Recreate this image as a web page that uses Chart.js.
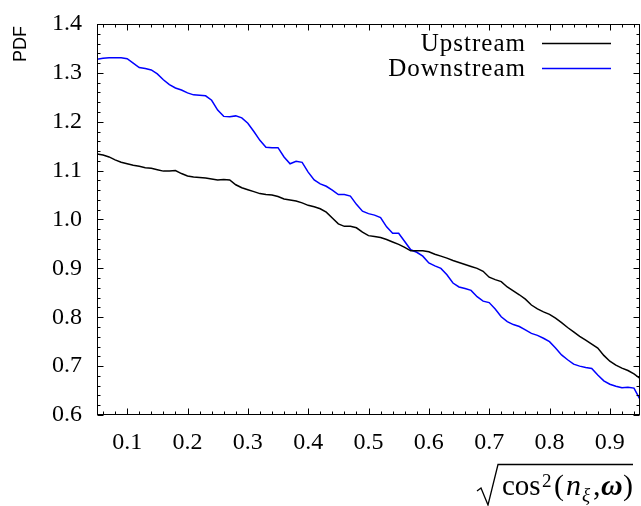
<!DOCTYPE html>
<html>
<head>
<meta charset="utf-8">
<script src="https://cdn.jsdelivr.net/npm/chart.js@4.4.1/dist/chart.umd.min.js"></script>
<style>
  html, body { margin: 0; padding: 0; background: #fff; }
</style>
</head>
<body>
<canvas id="chart" width="641" height="506"></canvas>
<script>
// values
const xValues = [
  0.05, 0.06, 0.07, 0.08, 0.09, 0.10, 0.11, 0.12, 0.13, 0.14,
  0.15, 0.16, 0.17, 0.18, 0.19, 0.20, 0.21, 0.22, 0.23, 0.24,
  0.25, 0.26, 0.27, 0.28, 0.29, 0.30, 0.31, 0.32, 0.33, 0.34,
  0.35, 0.36, 0.37, 0.38, 0.39, 0.40, 0.41, 0.42, 0.43, 0.44,
  0.45, 0.46, 0.47, 0.48, 0.49, 0.50, 0.51, 0.52, 0.53, 0.54,
  0.55, 0.56, 0.57, 0.58, 0.59, 0.60, 0.61, 0.62, 0.63, 0.64,
  0.65, 0.66, 0.67, 0.68, 0.69, 0.70, 0.71, 0.72, 0.73, 0.74,
  0.75, 0.76, 0.77, 0.78, 0.79, 0.80, 0.81, 0.82, 0.83, 0.84,
  0.85, 0.86, 0.87, 0.88, 0.89, 0.90, 0.91, 0.92, 0.93, 0.94, 0.95
];
const upstream = [
  1.134, 1.132, 1.128, 1.122, 1.117, 1.114, 1.111, 1.109, 1.106, 1.105,
  1.102, 1.099, 1.099, 1.100, 1.094, 1.089, 1.087, 1.086, 1.085, 1.083,
  1.081, 1.082, 1.081, 1.071, 1.065, 1.061, 1.057, 1.053, 1.051, 1.050,
  1.047, 1.042, 1.040, 1.038, 1.034, 1.029, 1.026, 1.022, 1.015, 1.003,
  0.991, 0.986, 0.986, 0.983, 0.974, 0.967, 0.965, 0.963, 0.959, 0.954,
  0.949, 0.943, 0.936, 0.936, 0.936, 0.934, 0.929, 0.925, 0.921, 0.916,
  0.912, 0.908, 0.904, 0.900, 0.894, 0.882, 0.877, 0.873, 0.862, 0.854,
  0.846, 0.837, 0.825, 0.817, 0.811, 0.806, 0.798, 0.789, 0.779, 0.770,
  0.761, 0.753, 0.745, 0.737, 0.722, 0.710, 0.702, 0.696, 0.691, 0.684, 0.675
];
const downstream = [
  1.328, 1.330, 1.331, 1.331, 1.331, 1.329, 1.320, 1.311, 1.309, 1.306,
  1.298, 1.286, 1.276, 1.269, 1.265, 1.259, 1.255, 1.254, 1.253, 1.244,
  1.224, 1.211, 1.210, 1.212, 1.208, 1.197, 1.180, 1.162, 1.148, 1.147,
  1.147, 1.128, 1.114, 1.119, 1.117, 1.097, 1.081, 1.073, 1.068, 1.060,
  1.051, 1.051, 1.048, 1.031, 1.017, 1.012, 1.009, 1.004, 0.985, 0.972,
  0.972, 0.955, 0.938, 0.933, 0.925, 0.911, 0.905, 0.900, 0.887, 0.870,
  0.862, 0.859, 0.855, 0.842, 0.833, 0.830, 0.817, 0.801, 0.791, 0.785,
  0.781, 0.774, 0.767, 0.763, 0.757, 0.750, 0.737, 0.723, 0.713, 0.704,
  0.700, 0.697, 0.695, 0.682, 0.670, 0.663, 0.659, 0.656, 0.657, 0.655, 0.632
];
const seriesLabels = ["Upstream", "Downstream"];
const seriesColors = ["#000000", "#0000ff"];
const xTicks = [0.1, 0.2, 0.3, 0.4, 0.5, 0.6, 0.7, 0.8, 0.9];
const yTicks = [0.6, 0.7, 0.8, 0.9, 1.0, 1.1, 1.2, 1.3, 1.4];
const xMinorTicks = [0.06, 0.08, 0.12, 0.14, 0.16, 0.18, 0.22, 0.24, 0.26, 0.28,
  0.32, 0.34, 0.36, 0.38, 0.42, 0.44, 0.46, 0.48, 0.52, 0.54, 0.56, 0.58,
  0.62, 0.64, 0.66, 0.68, 0.72, 0.74, 0.76, 0.78, 0.82, 0.84, 0.86, 0.88, 0.92, 0.94];
const yMinorTicks = [0.62, 0.64, 0.66, 0.68, 0.72, 0.74, 0.76, 0.78, 0.82, 0.84, 0.86, 0.88,
  0.92, 0.94, 0.96, 0.98, 1.02, 1.04, 1.06, 1.08, 1.12, 1.14, 1.16, 1.18,
  1.22, 1.24, 1.26, 1.28, 1.32, 1.34, 1.36, 1.38];

const SERIF = "'Liberation Serif', serif";

// gnuplot-like frame with inward ticks on all four sides
const frameTicks = {
  id: "frameTicks",
  afterDatasetsDraw(chart) {
    const { ctx, chartArea: a, scales: { x, y } } = chart;
    ctx.save();
    ctx.strokeStyle = "#000";
    ctx.lineWidth = 1;
    const L = Math.round(a.left) + 0.5, R = Math.round(a.right) - 0.5;
    const T = Math.round(a.top) + 0.5, B = Math.round(a.bottom) - 0.5;
    ctx.strokeRect(L, T, R - L, B - T);
    ctx.beginPath();
    const tickX = (v, len) => {
      const px = Math.round(x.getPixelForValue(v)) + 0.5;
      ctx.moveTo(px, B); ctx.lineTo(px, B - len);
      ctx.moveTo(px, T); ctx.lineTo(px, T + len);
    };
    const tickY = (v, len) => {
      const py = Math.round(y.getPixelForValue(v)) + 0.5;
      ctx.moveTo(L, py); ctx.lineTo(L + len, py);
      ctx.moveTo(R, py); ctx.lineTo(R - len, py);
    };
    xTicks.forEach(v => tickX(v, 6));
    xMinorTicks.forEach(v => tickX(v, 3));
    yTicks.forEach(v => tickY(v, 6));
    yMinorTicks.forEach(v => tickY(v, 3));
    ctx.stroke();
    ctx.restore();
  }
};

// legend, y label and the x label with its radical sign
const labels = {
  id: "labels",
  afterDraw(chart) {
    const ctx = chart.ctx;
    ctx.save();
    // legend
    ctx.font = "25px " + SERIF;
    ctx.letterSpacing = "1px";
    ctx.textAlign = "right";
    ctx.textBaseline = "middle";
    const rows = [43.5, 68.5];
    seriesLabels.forEach((t, i) => {
      ctx.fillStyle = "#000";
      ctx.fillText(t, 526, rows[i] + 1);
      ctx.strokeStyle = seriesColors[i];
      ctx.lineWidth = 1.5;
      ctx.beginPath();
      ctx.moveTo(542, rows[i]);
      ctx.lineTo(611, rows[i]);
      ctx.stroke();
    });
    ctx.letterSpacing = "0px";

    // y label
    ctx.save();
    ctx.translate(21, 44);
    ctx.rotate(-Math.PI / 2);
    ctx.font = "18px 'Liberation Sans', sans-serif";
    ctx.textAlign = "center";
    ctx.textBaseline = "middle";
    ctx.fillStyle = "#000";
    ctx.fillText("PDF", 0, 0);
    ctx.restore();

    // x label: sqrt(cos^2(n_xi, omega))
    const base = 495;
    const parts = [
      { t: "cos", f: "29px " + SERIF, x: 502, dy: 0 },
      { t: "2", f: "19px " + SERIF, x: 542, dy: -8 },
      { t: "(", f: "30px " + SERIF, x: 554, dy: 0 },
      { t: "n", f: "italic 30px " + SERIF, x: 566, dy: 0 },
      { t: "ξ", f: "italic 19px " + SERIF, x: 582, dy: 6 },
      { t: ",", f: "30px " + SERIF, x: 593, dy: 0 },
      { t: "ω", f: "bold italic 30px " + SERIF, x: 601, dy: 0 },
      { t: ")", f: "30px " + SERIF, x: 623, dy: 0 }
    ];
    ctx.textAlign = "left";
    ctx.textBaseline = "alphabetic";
    ctx.fillStyle = "#000";
    parts.forEach(p => {
      ctx.font = p.f;
      ctx.fillText(p.t, p.x, base + p.dy);
    });
    ctx.strokeStyle = "#000";
    ctx.lineWidth = 1.3;
    ctx.beginPath();
    ctx.moveTo(477, 491);
    ctx.lineTo(481, 488);
    ctx.lineTo(488, 505);
    ctx.lineTo(498, 464.5);
    ctx.lineTo(633, 464.5);
    ctx.stroke();
    ctx.restore();
  }
};

const toPoints = ys => xValues.map((x, i) => ({ x: x, y: ys[i] }));

new Chart(document.getElementById("chart"), {
  type: "line",
  data: {
    datasets: [
      {
        label: seriesLabels[0],
        data: toPoints(upstream),
        borderColor: seriesColors[0],
        borderWidth: 1.5,
        pointRadius: 0,
        tension: 0
      },
      {
        label: seriesLabels[1],
        data: toPoints(downstream),
        borderColor: seriesColors[1],
        borderWidth: 1.5,
        pointRadius: 0,
        tension: 0
      }
    ]
  },
  options: {
    responsive: false,
    animation: false,
    layout: { padding: { left: 0, right: 1, top: 24, bottom: 0 } },
    plugins: { legend: { display: false }, tooltip: { enabled: false } },
    scales: {
      x: {
        type: "linear",
        min: 0.05,
        max: 0.95,
        grid: { display: false, drawTicks: false },
        border: { display: false },
        afterBuildTicks: s => { s.ticks = xTicks.map(v => ({ value: v })); },
        afterFit: s => { s.height = 91; s.paddingLeft = 0; s.paddingRight = 0; },
        ticks: {
          padding: 13,
          color: "#000",
          font: { family: SERIF, size: 24 },
          maxRotation: 0,
          callback: v => v.toFixed(1)
        }
      },
      y: {
        type: "linear",
        min: 0.6,
        max: 1.4,
        grid: { display: false, drawTicks: false },
        border: { display: false },
        afterBuildTicks: s => { s.ticks = yTicks.map(v => ({ value: v })); },
        afterFit: s => { s.width = 97; s.paddingTop = 0; s.paddingBottom = 0; },
        ticks: {
          padding: 15,
          color: "#000",
          font: { family: SERIF, size: 24 },
          callback: v => v.toFixed(1)
        }
      }
    }
  },
  plugins: [frameTicks, labels]
});
</script>
</body>
</html>
